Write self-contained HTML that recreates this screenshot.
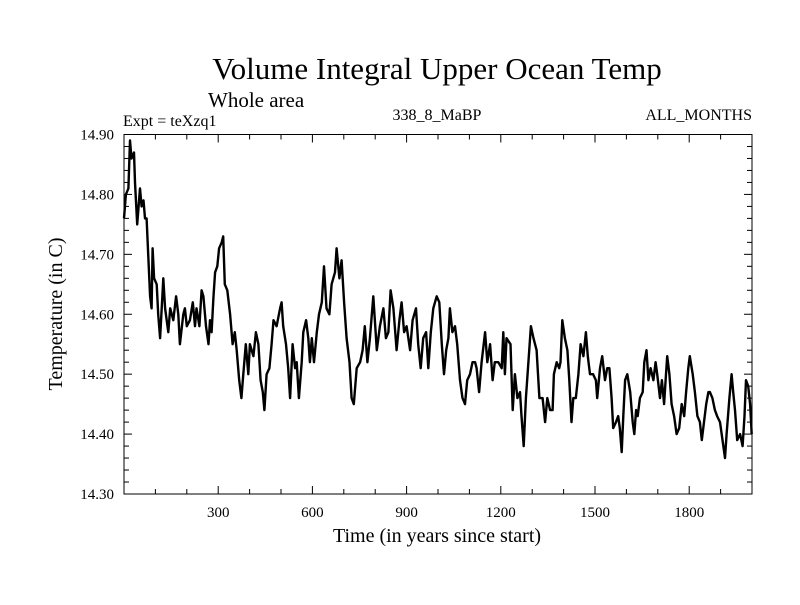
<!DOCTYPE html>
<html><head><meta charset="utf-8"><style>
body{margin:0;background:#fff}
svg text{font-family:"Liberation Serif",serif;fill:#000}
</style></head><body>
<svg id="chart" width="800" height="600" xmlns="http://www.w3.org/2000/svg">
<text x="437" y="79" font-size="31" text-anchor="middle">Volume Integral Upper Ocean Temp</text>
<text x="208" y="107" font-size="21">Whole area</text>
<text x="123" y="126" font-size="16">Expt = teXzq1</text>
<text x="437" y="120" font-size="16" text-anchor="middle">338_8_MaBP</text>
<text x="752" y="120" font-size="16" text-anchor="end">ALL_MONTHS</text>
<text transform="translate(62,314) rotate(-90)" font-size="20" text-anchor="middle">Temperature (in C)</text>
<text x="437" y="542" font-size="20" text-anchor="middle">Time (in years since start)</text>
<g id="axes"></g>
<path id="series" fill="none" stroke="#000" stroke-width="2.4" stroke-linejoin="round"/>
<rect x="124" y="134.5" width="628" height="359.5" fill="none" stroke="#000" stroke-width="1"/>
</svg>
<script>
const years=[0,6,14,19,24,32,35,42,51,56,62,67,72,77,83,88,91,96,104,109,115,120,125,131,141,147,157,166,173,178,189,194,200,210,219,226,231,240,247,253,261,269,274,279,285,290,297,303,311,316,321,329,338,346,353,359,367,374,380,388,396,401,412,420,428,435,442,447,454,463,470,476,486,497,502,507,516,523,529,537,545,550,557,566,571,580,587,592,598,605,614,621,630,637,645,654,661,672,677,686,693,701,709,718,725,732,741,752,760,767,775,783,794,805,815,826,834,842,849,858,868,877,884,892,900,911,919,930,937,945,953,962,969,977,985,996,1004,1012,1019,1026,1033,1038,1046,1054,1061,1070,1078,1086,1093,1102,1110,1118,1123,1131,1139,1150,1157,1166,1174,1181,1192,1203,1208,1213,1218,1231,1238,1245,1253,1261,1266,1273,1280,1288,1296,1304,1314,1323,1333,1341,1348,1357,1365,1369,1378,1386,1390,1396,1404,1412,1418,1425,1431,1439,1447,1454,1463,1471,1477,1484,1494,1503,1507,1516,1523,1532,1539,1546,1553,1558,1567,1574,1579,1585,1590,1596,1603,1612,1620,1625,1631,1636,1643,1652,1657,1664,1670,1677,1686,1693,1698,1707,1713,1720,1726,1730,1737,1744,1752,1760,1768,1776,1784,1790,1797,1802,1811,1818,1826,1834,1840,1847,1854,1861,1866,1874,1882,1889,1898,1906,1914,1919,1928,1935,1940,1946,1953,1962,1970,1976,1981,1988,1994,1999];
const temps=[14.76,14.80,14.81,14.89,14.86,14.87,14.82,14.75,14.81,14.78,14.79,14.76,14.76,14.70,14.63,14.61,14.71,14.66,14.65,14.60,14.56,14.61,14.66,14.61,14.57,14.61,14.59,14.63,14.60,14.55,14.60,14.61,14.58,14.59,14.62,14.58,14.61,14.58,14.64,14.63,14.58,14.55,14.59,14.57,14.63,14.67,14.68,14.71,14.72,14.73,14.65,14.64,14.60,14.55,14.57,14.54,14.49,14.46,14.50,14.55,14.50,14.55,14.53,14.57,14.55,14.49,14.47,14.44,14.50,14.51,14.55,14.59,14.58,14.61,14.62,14.58,14.55,14.51,14.46,14.55,14.51,14.52,14.46,14.52,14.57,14.59,14.56,14.52,14.56,14.52,14.57,14.60,14.62,14.68,14.61,14.60,14.65,14.67,14.71,14.66,14.69,14.62,14.56,14.52,14.46,14.45,14.51,14.52,14.54,14.58,14.52,14.56,14.63,14.54,14.58,14.61,14.56,14.57,14.64,14.61,14.54,14.59,14.62,14.57,14.58,14.54,14.59,14.61,14.55,14.51,14.56,14.57,14.51,14.57,14.61,14.63,14.62,14.55,14.50,14.54,14.56,14.61,14.57,14.58,14.55,14.49,14.46,14.45,14.49,14.50,14.52,14.52,14.51,14.47,14.52,14.57,14.52,14.55,14.49,14.52,14.52,14.51,14.57,14.50,14.56,14.55,14.44,14.50,14.46,14.47,14.43,14.38,14.46,14.52,14.58,14.56,14.54,14.46,14.46,14.42,14.46,14.44,14.44,14.50,14.52,14.51,14.52,14.59,14.56,14.54,14.49,14.42,14.46,14.46,14.50,14.55,14.53,14.57,14.53,14.50,14.50,14.49,14.46,14.51,14.53,14.49,14.51,14.51,14.46,14.41,14.42,14.43,14.41,14.37,14.43,14.49,14.50,14.47,14.42,14.40,14.44,14.43,14.46,14.47,14.52,14.54,14.49,14.51,14.49,14.52,14.50,14.46,14.49,14.45,14.50,14.53,14.50,14.45,14.43,14.40,14.41,14.45,14.43,14.47,14.51,14.53,14.50,14.47,14.43,14.42,14.39,14.42,14.45,14.47,14.47,14.46,14.44,14.43,14.42,14.39,14.36,14.40,14.46,14.50,14.47,14.44,14.39,14.40,14.38,14.43,14.49,14.48,14.45,14.40];
const xTickLabels=[300,600,900,1200,1500,1800];
const yTickLabels=["14.30","14.40","14.50","14.60","14.70","14.80","14.90"];
const X0=124,X1=752,Y0=494,Y1=134.5,XMIN=0,XMAX=2000,YMIN=14.30,YMAX=14.90;
function sx(v){return X0+(v-XMIN)/(XMAX-XMIN)*(X1-X0);}
function sy(v){return Y0-(v-YMIN)/(YMAX-YMIN)*(Y0-Y1);}
const NS="http://www.w3.org/2000/svg";
const axes=document.getElementById('axes');
function line(x1,y1,x2,y2,name){const l=document.createElementNS(NS,'line');l.setAttribute('x1',x1);l.setAttribute('y1',y1);l.setAttribute('x2',x2);l.setAttribute('y2',y2);l.setAttribute('stroke','#000');l.setAttribute('stroke-width','1');


axes.appendChild(l);}
function txt(x,y,s,anchor,name){const t=document.createElementNS(NS,'text');t.setAttribute('x',x);t.setAttribute('y',y);t.setAttribute('font-size','15');t.setAttribute('text-anchor',anchor);t.textContent=s;


axes.appendChild(t);}
for(let yr=100;yr<XMAX;yr+=100){const x=sx(yr);const L=(yr%300===0)?8:5;line(x,Y0,x,Y0-L,'x-tick');line(x,Y1,x,Y1+L,'x-tick-top');}
xTickLabels.forEach(v=>txt(sx(v),517,String(v),'middle','x-tick-label'));
for(let i=0;i<=30;i++){const v=YMIN+i*0.02;const y=sy(v);const L=(i%5===0)?8:5;line(X0,y,X0+L,y,'y-tick');line(X1,y,X1-L,y,'y-tick-right');}
yTickLabels.forEach(s=>txt(114,sy(parseFloat(s))+5,s,'end','y-tick-label'));
let d='';years.forEach((yr,i)=>{d+=(i?'L':'M')+sx(yr).toFixed(1)+' '+sy(temps[i]).toFixed(1);});
document.getElementById('series').setAttribute('d',d);
</script>
</body></html>
